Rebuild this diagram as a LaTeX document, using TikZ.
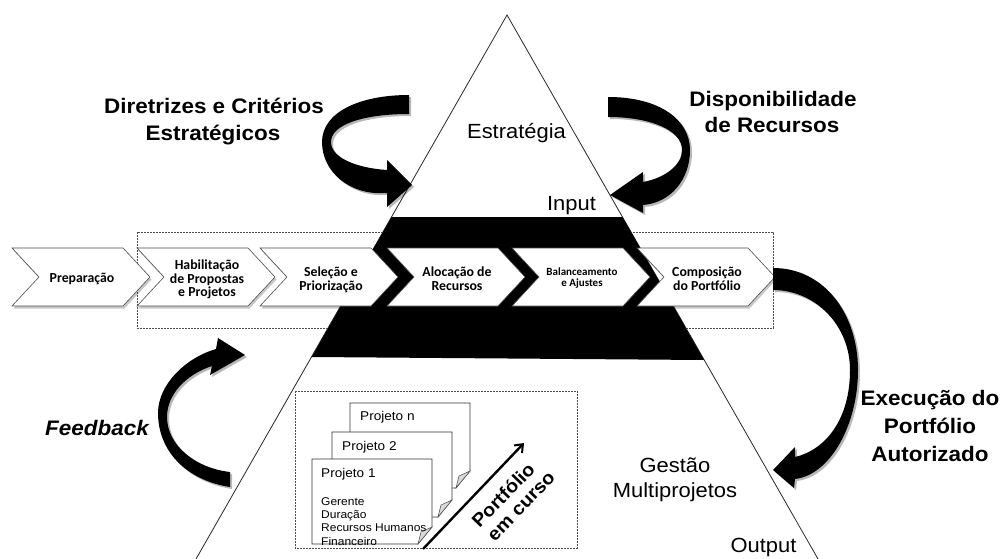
\documentclass[tikz,border=0pt]{standalone}
\usepackage{fontspec}
\setmainfont{Liberation Sans}[FakeStretch=1.07]
\newfontfamily\calfont{Carlito}
\usetikzlibrary{arrows.meta}
\begin{document}
\begin{tikzpicture}[x=1pt,y=-1pt,
  chev/.style={fill=white, draw=black!70, line width=0.6pt},
  chevshadow/.style={fill=black, opacity=0.22},
  ctext/.style={font=\calfont\bfseries\fontsize{13.8}{14}\selectfont, anchor=base, inner sep=0pt},
  csmall/.style={font=\calfont\bfseries\fontsize{11}{11}\selectfont, anchor=base, inner sep=0pt},
  big/.style={font=\bfseries\fontsize{21}{25}\selectfont, anchor=base, inner sep=0pt},
  reg/.style={font=\fontsize{20.5}{24}\selectfont, anchor=base, inner sep=0pt},
  ptitle/.style={font=\fontsize{12.7}{14}\selectfont, anchor=base west, inner sep=0pt},
  plist/.style={font=\fontsize{11.2}{12}\selectfont, anchor=base west, inner sep=0pt},
  diag/.style={font=\bfseries\fontsize{18.5}{20}\selectfont, rotate=46, inner sep=0pt},
  bigarrow/.style={fill=black},
  arrowshadow/.style={fill=black, opacity=0.28},
  dashbox/.style={draw=black!70, dash pattern=on 2pt off 1pt, line width=0.6pt},
  pagebox/.style={fill=white, draw=black!80, line width=0.7pt},
  edge/.style={draw=black!85, line width=0.8pt}]
\useasboundingbox (0,0) rectangle (1001,559);

% triangle
\coordinate (apex) at (507,15);
\coordinate (bl) at (196,559);
\coordinate (br) at (818,559);
\draw[edge] (bl) -- (apex) -- (br);

% dashed box behind chevrons
\draw[dashbox] (137,232) rectangle (773,328);

% black band
\fill[black] (391.6,217) -- (622.4,217) -- (704,360) -- (311.7,357) -- cycle;

% chevrons
\foreach \xl in {12,137,260,387,512,637}{
  \fill[chevshadow] (\xl+1.5,250.5) -- ++(111,0) -- ++(27,29) -- ++(-27,29) -- ++(-111,0) -- ++(27,-29) -- cycle;
  \draw[chev] (\xl,248) -- ++(111,0) -- ++(27,29) -- ++(-27,29) -- ++(-111,0) -- ++(27,-29) -- cycle;
}
\node[ctext] (c1) at (82,282) {Preparação};
\node[ctext] (c2a) at (207,269) {Habilitação};
\node[ctext] (c2b) at (207,283) {de Propostas};
\node[ctext] (c2c) at (207,296) {e Projetos};
\node[ctext] (c3a) at (331,276) {Seleção e};
\node[ctext] (c3b) at (331,290) {Priorização};
\node[ctext] (c4a) at (457,276) {Alocação de};
\node[ctext] (c4b) at (457,290) {Recursos};
\node[csmall] (c5a) at (582,275) {Balanceamento};
\node[csmall] (c5b) at (582,286) {e Ajustes};
\node[ctext] (c6a) at (707,276) {Composição};
\node[ctext] (c6b) at (707,290) {do Portfólio};

% lower dashed box and project pages
\draw[dashbox] (295,391) rectangle (577,548);
\foreach \px/\py in {350/403, 332/432, 312/459}{
  \draw[pagebox] (\px,\py) -- ++(120,0) -- ++(0,68) -- ++(-14,17) -- ++(-106,0) -- cycle;
  \filldraw[fill=black!15, draw=black!70, line width=0.5pt] (\px+120,\py+68) -- (\px+109,\py+73) -- (\px+106,\py+85) -- cycle;
}
\node[ptitle] (pn) at (360,420) {Projeto n};
\node[ptitle] (p2) at (342,450) {Projeto 2};
\node[ptitle] (p1) at (321,477) {Projeto 1};
\node[plist] (l1) at (321,505) {Gerente};
\node[plist] (l2) at (321,518) {Duração};
\node[plist] (l3) at (321,531) {Recursos Humanos};
\node[plist] (l4) at (321,545) {Financeiro};

% portfolio arrow
\coordinate (pa) at (423,549);
\coordinate (pb) at (524,443);
\draw[line width=2.4pt, -{Straight Barb[length=7pt,width=11pt,line width=2pt]}] (pa) -- (pb);
\node[diag] (pc1) at (503,495) {Portfólio};
\node[diag] (pc2) at (522,507) {em curso};

% big curved arrows
% A1 Diretrizes
\fill[arrowshadow] (411,97) .. controls (362,97) and (324,114) .. (324,144) .. controls (324,174) and (352,198) .. (389,195) -- (389,209) -- (414,187) -- (389,162) -- (389,174) .. controls (359,172) and (333,160) .. (333,144) .. controls (333,126) and (367,116) .. (411,116) -- cycle;
\fill[bigarrow] (409,95) .. controls (360,95) and (322,112) .. (322,142) .. controls (322,172) and (350,196) .. (387,193) -- (387,207) -- (412,185) -- (387,160) -- (387,170) .. controls (357,168) and (331,158) .. (331,142) .. controls (331,124) and (365,114) .. (409,114) -- cycle;
% A2 Disponibilidade
\fill[arrowshadow] (610,99) .. controls (662,99) and (692,122) .. (692,152) .. controls (692,182) and (672,205) .. (645,207) -- (645,215) -- (612,197) -- (645,174) -- (645,184) .. controls (667,180) and (684,167) .. (684,152) .. controls (684,132) and (652,119) .. (610,119) -- cycle;
\fill[bigarrow] (608,97) .. controls (660,97) and (690,120) .. (690,150) .. controls (690,180) and (670,203) .. (643,205) -- (643,213) -- (610,195) -- (643,172) -- (643,182) .. controls (665,178) and (682,165) .. (682,150) .. controls (682,130) and (650,117) .. (608,117) -- cycle;
% A3 Execucao
\fill[arrowshadow] (775,270) .. controls (827,270) and (860,317) .. (860,372) .. controls (860,427) and (832,477) .. (797,481) -- (796,490) -- (775,472) -- (797,449) -- (797,459) .. controls (827,452) and (852,422) .. (852,372) .. controls (852,327) and (817,292) .. (775,292) -- cycle;
\fill[bigarrow] (773,268) .. controls (825,268) and (858,315) .. (858,370) .. controls (858,425) and (830,475) .. (795,479) -- (794,488) -- (773,470) -- (795,447) -- (795,457) .. controls (825,450) and (850,420) .. (850,370) .. controls (850,325) and (815,290) .. (773,290) -- cycle;
% A4 Feedback
\fill[arrowshadow] (232,489) .. controls (187,482) and (160,452) .. (160,415) .. controls (160,387) and (187,360) .. (218,351) -- (220,340) -- (247,357) -- (212,377) -- (214,368) .. controls (187,377) and (169,397) .. (169,419) .. controls (169,447) and (197,470) .. (232,474) -- cycle;
\fill[bigarrow] (230,487) .. controls (185,480) and (158,450) .. (158,413) .. controls (158,385) and (185,358) .. (216,349) -- (218,338) -- (245,355) -- (210,375) -- (212,366) .. controls (185,375) and (167,395) .. (167,417) .. controls (167,445) and (195,468) .. (230,472) -- cycle;

% labels
\node[big] (d1) at (214,114) {Diretrizes e Critérios};
\node[big] (d2) at (213,141) {Estratégicos};
\node[big] (r1) at (773,107) {Disponibilidade};
\node[big] (r2) at (772,133) {de Recursos};
\node[big] (e1) at (930,405) {Execução do};
\node[big] (e2) at (930,433) {Portfólio};
\node[big] (e3) at (930,461) {Autorizado};
\node[big, font=\bfseries\itshape\fontsize{21}{25}\selectfont] (fb) at (97,435) {Feedback};
\node[reg] (est) at (516.5,139) {Estratégia};
\node[reg] (inp) at (571.5,210) {Input};
\node[reg] (g1) at (675,472) {Gestão};
\node[reg] (g2) at (675,497) {Multiprojetos};
\node[reg] (out) at (763.5,552) {Output};
\end{tikzpicture}
\end{document}
